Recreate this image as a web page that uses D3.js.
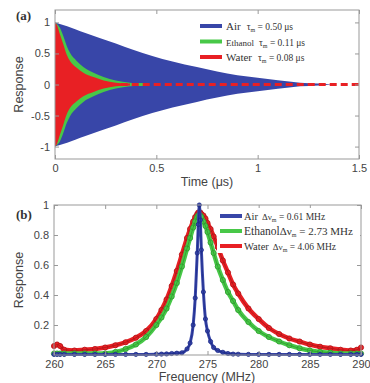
<!DOCTYPE html>
<html>
<head>
<meta charset="utf-8">
<script src="https://cdn.jsdelivr.net/npm/d3@7"></script>
<style>
  body { margin: 0; background: #fff; }
  svg { display: block; }
  .tick text { font-family: "Liberation Sans", Arial, sans-serif; font-size: 11px; fill: #444; }
  .tick line { stroke: #999; }
</style>
</head>
<body>
<div id="chart"></div>
<script>
// ---- panel (a): ring-down envelopes ----
const timeAir = [0, 0.02, 0.06, 0.1, 0.15, 0.22, 0.3, 0.385, 0.48, 0.58, 0.7, 0.8, 0.9, 1.0, 1.1, 1.21, 1.3, 1.37];
const envAir = [1.0, 0.98, 0.94, 0.89, 0.83, 0.75, 0.66, 0.56, 0.46, 0.37, 0.28, 0.21, 0.15, 0.11, 0.07, 0.03, 0.015, 0];
const timeEthanol = [0, 0.008, 0.025, 0.041, 0.058, 0.074, 0.107, 0.14, 0.19, 0.24, 0.3, 0.37, 0.41, 0.45];
const envEthanol = [1.0, 0.98, 0.91, 0.78, 0.62, 0.51, 0.38, 0.28, 0.19, 0.12, 0.065, 0.03, 0.015, 0];
const timeWater = [0, 0.008, 0.025, 0.041, 0.058, 0.074, 0.107, 0.14, 0.19, 0.24, 0.3, 0.37];
const envWater = [1.0, 0.97, 0.8, 0.65, 0.48, 0.38, 0.27, 0.19, 0.12, 0.065, 0.03, 0.015];
const timeTicks = [0, 0.5, 1, 1.5];
const respTicksA = [-1, -0.5, 0, 0.5, 1];
const legendA = ["Air", "Ethanol", "Water"];
const tauValues = ["0.50", "0.11", "0.08"];

// ---- panel (b): frequency response ----
const freq = [260, 260.3, 260.6, 261, 262, 263, 264, 265, 266, 267, 268, 269, 270, 270.5, 271, 271.5, 272, 272.5, 273, 273.3, 273.6, 273.8, 274, 274.1, 274.2, 274.3, 274.4, 274.6, 274.8, 275, 275.3, 275.6, 276, 276.5, 277, 277.5, 278, 279, 280, 281, 282, 283, 284, 285, 286, 287, 288, 289, 289.6, 290];
const respWater = [0.06, 0.07, 0.06, 0.035, 0.03, 0.035, 0.04, 0.05, 0.065, 0.085, 0.115, 0.16, 0.24, 0.3, 0.37, 0.46, 0.56, 0.67, 0.78, 0.84, 0.89, 0.92, 0.94, 0.95, 0.95, 0.95, 0.94, 0.93, 0.91, 0.88, 0.84, 0.79, 0.72, 0.63, 0.55, 0.47, 0.41, 0.31, 0.24, 0.18, 0.14, 0.11, 0.09, 0.07, 0.055, 0.045, 0.035, 0.03, 0.035, 0.05];
const respEthanol = [0.01, 0.01, 0.01, 0.01, 0.01, 0.01, 0.01, 0.01, 0.02, 0.04, 0.07, 0.12, 0.2, 0.25, 0.31, 0.39, 0.48, 0.59, 0.71, 0.78, 0.85, 0.89, 0.92, 0.93, 0.93, 0.93, 0.92, 0.89, 0.86, 0.82, 0.75, 0.68, 0.59, 0.5, 0.42, 0.36, 0.3, 0.22, 0.16, 0.12, 0.09, 0.065, 0.045, 0.03, 0.02, 0.015, 0.01, 0.01, 0.01, 0.01];
const respAir = [0.004, 0.004, 0.004, 0.004, 0.004, 0.004, 0.004, 0.004, 0.004, 0.004, 0.004, 0.004, 0.005, 0.006, 0.007, 0.01, 0.012, 0.015, 0.04, 0.08, 0.2, 0.38, 0.68, 0.87, 1.0, 0.9, 0.7, 0.42, 0.24, 0.16, 0.09, 0.05, 0.03, 0.018, 0.01, 0.006, 0.005, 0.004, 0.004, 0.004, 0.004, 0.004, 0.004, 0.004, 0.004, 0.004, 0.004, 0.004, 0.004, 0.004];
const freqTicks = [260, 265, 270, 275, 280, 285, 290];
const respTicksB = [0.2, 0.4, 0.6, 0.8, 1];
const legendB = ["Air", "Ethanol", "Water"];
const widthValues = ["0.61", "2.73", "4.06"];

const colors = { Air: "#3846a8", Ethanol: "#48c848", Water: "#e82024" };
const darkColors = { Air: "#1c2a88", Ethanol: "#2e9a2e", Water: "#b01418" };

const svg = d3.select("#chart")
  .append("svg")
  .attr("width", 370)
  .attr("height", 383);

// draws inward ticks on all four sides plus the box
function drawFrame(g, x, y, xTicks, yTicks) {
  const [x0, x1] = x.range();
  const [y0, y1] = y.range();
  const fmt = d => String(d);

  g.append("g")
    .attr("transform", `translate(0, ${y0})`)
    .call(d3.axisBottom(x).tickValues(xTicks).tickSize(-4).tickPadding(5).tickFormat(fmt))
    .call(a => a.select(".domain").remove());
  g.append("g")
    .attr("transform", `translate(0, ${y1})`)
    .call(d3.axisTop(x).tickValues(xTicks).tickSize(-4).tickFormat(""))
    .call(a => a.select(".domain").remove());
  g.append("g")
    .attr("transform", `translate(${x0}, 0)`)
    .call(d3.axisLeft(y).tickValues(yTicks).tickSize(-4).tickPadding(5).tickFormat(fmt))
    .call(a => a.select(".domain").remove());
  g.append("g")
    .attr("transform", `translate(${x1}, 0)`)
    .call(d3.axisRight(y).tickValues(yTicks).tickSize(-4).tickFormat(""))
    .call(a => a.select(".domain").remove());

  g.append("rect")
    .attr("x", x0)
    .attr("y", y1)
    .attr("width", x1 - x0)
    .attr("height", y0 - y1)
    .attr("fill", "none")
    .attr("stroke", "#999")
    .attr("stroke-width", 1);
}

function axisTitle(g, text, x, y, rotate) {
  g.append("text")
    .attr("transform", `translate(${x}, ${y})` + (rotate ? " rotate(-90)" : ""))
    .attr("text-anchor", "middle")
    .style("font-family", "'Liberation Sans', Arial, sans-serif")
    .style("font-size", "12.5px")
    .style("fill", "#444")
    .text(text);
}

// ================= panel (a) =================
const gA = svg.append("g");
const xA = d3.scaleLinear().domain([0, 1.5]).range([55, 359]);
const yA = d3.scaleLinear().domain([-1.2, 1.2]).range([159, 10]);

const envArea = d3.area()
  .x(d => xA(d[0]))
  .y0(d => yA(-d[1]))
  .y1(d => yA(d[1]))
  .curve(d3.curveMonotoneX);

gA.append("path")
  .datum(d3.zip(timeAir, envAir))
  .attr("d", envArea)
  .attr("fill", colors.Air);

// the fast oscillation left after decay shows as dashes on zero
gA.append("line")
  .attr("x1", xA(0.25)).attr("x2", xA(0.45))
  .attr("y1", yA(0)).attr("y2", yA(0))
  .attr("stroke", colors.Ethanol)
  .attr("stroke-width", 3);

gA.append("path")
  .datum(d3.zip(timeEthanol, envEthanol))
  .attr("d", envArea)
  .attr("fill", colors.Ethanol);

gA.append("path")
  .datum(d3.zip(timeWater, envWater))
  .attr("d", envArea)
  .attr("fill", colors.Water);

gA.append("line")
  .attr("x1", xA(0.27)).attr("x2", xA(1.5))
  .attr("y1", yA(0)).attr("y2", yA(0))
  .attr("stroke", colors.Water)
  .attr("stroke-width", 3)
  .attr("stroke-dasharray", "7 4");

drawFrame(gA, xA, yA, timeTicks, respTicksA);
axisTitle(gA, "Response", 23, yA(0), true);
axisTitle(gA, "Time (\u03bcs)", 207, 186, false);

gA.append("text")
  .attr("x", 16).attr("y", 20)
  .style("font-family", "'Liberation Serif', serif")
  .style("font-size", "13px")
  .style("font-weight", "bold")
  .style("fill", "#333")
  .text("(a)");

// legend (a)
gA.append("rect")
  .attr("x", 197).attr("y", 16).attr("width", 122).attr("height", 48)
  .attr("fill", "#fff");

const legA = gA.selectAll(".legA")
  .data(legendA)
  .enter().append("g")
  .attr("class", "legA")
  .attr("transform", (d, i) => `translate(200, ${26 + i * 15.5})`);

legA.append("line")
  .attr("x1", 0).attr("x2", 22)
  .attr("stroke", d => colors[d])
  .attr("stroke-width", 4);

const legAText = legA.append("text")
  .attr("x", 26).attr("y", 4)
  .style("font-family", "'Liberation Serif', serif")
  .style("fill", "#333");
legAText.append("tspan")
  .style("font-size", (d, i) => i === 1 ? "9px" : "11px")
  .text(d => d);
legAText.append("tspan")
  .attr("dx", (d, i) => i === 1 ? 5 : 6)
  .style("font-size", "9.5px")
  .text("\u03c4");
legAText.append("tspan")
  .attr("dy", 2)
  .style("font-size", "6px")
  .text("m");
legAText.append("tspan")
  .attr("dy", -2)
  .style("font-size", "9.5px")
  .text((d, i) => ` = ${tauValues[i]} \u03bcs`);

// ================= panel (b) =================
const gB = svg.append("g");
const xB = d3.scaleLinear().domain([260, 290]).range([54, 361]);
const yB = d3.scaleLinear().domain([0, 1]).range([355, 205]);

const respLine = d3.line()
  .x(d => xB(d[0]))
  .y(d => yB(d[1]))
  .curve(d3.curveMonotoneX);

const seriesB = [
  { name: "Water", values: respWater, w: 4.5, r: 2.6 },
  { name: "Ethanol", values: respEthanol, w: 4.5, r: 2.6 },
  { name: "Air", values: respAir, w: 3, r: 2.1 }
];

seriesB.forEach(s => {
  const pts = d3.zip(freq, s.values);
  gB.append("path")
    .datum(pts)
    .attr("d", respLine)
    .attr("fill", "none")
    .attr("stroke", colors[s.name])
    .attr("stroke-width", s.w);

  gB.selectAll(null)
    .data(pts)
    .enter().append("circle")
    .attr("cx", d => xB(d[0]))
    .attr("cy", d => yB(d[1]))
    .attr("r", s.r)
    .attr("fill", colors[s.name])
    .attr("stroke", darkColors[s.name])
    .attr("stroke-width", 0.8);

  gB.append("path")
    .datum(pts)
    .attr("d", respLine)
    .attr("fill", "none")
    .attr("stroke", darkColors[s.name])
    .attr("stroke-width", 0.8);
});

drawFrame(gB, xB, yB, freqTicks, respTicksB);
axisTitle(gB, "Response", 23, yB(0.5), true);
axisTitle(gB, "Frequency (MHz)", 207, 381, false);

gB.append("text")
  .attr("x", 16).attr("y", 219)
  .style("font-family", "'Liberation Serif', serif")
  .style("font-size", "13px")
  .style("font-weight", "bold")
  .style("fill", "#333")
  .text("(b)");

// legend (b)
gB.append("rect")
  .attr("x", 217).attr("y", 208).attr("width", 143).attr("height", 45)
  .attr("fill", "#fff");

const legB = gB.selectAll(".legB")
  .data(legendB)
  .enter().append("g")
  .attr("class", "legB")
  .attr("transform", (d, i) => `translate(220, ${216 + i * 15})`);

legB.append("line")
  .attr("x1", 0).attr("x2", 22)
  .attr("stroke", d => colors[d])
  .attr("stroke-width", 4);

const legBText = legB.append("text")
  .attr("x", 24).attr("y", 4)
  .style("font-family", "'Liberation Serif', serif")
  .style("fill", "#333");
legBText.append("tspan")
  .style("font-size", (d, i) => i === 1 ? "11.5px" : "10.5px")
  .text(d => d);
legBText.append("tspan")
  .attr("dx", (d, i) => i === 1 ? 0 : 4)
  .style("font-size", (d, i) => i === 1 ? "11px" : "9px")
  .text("\u0394\u03bd");
legBText.append("tspan")
  .attr("dy", 2)
  .style("font-size", "6px")
  .text("m");
legBText.append("tspan")
  .attr("dy", -2)
  .style("font-size", (d, i) => i === 1 ? "11px" : "9.5px")
  .text((d, i) => ` = ${widthValues[i]} MHz`);
</script>
</body>
</html>
